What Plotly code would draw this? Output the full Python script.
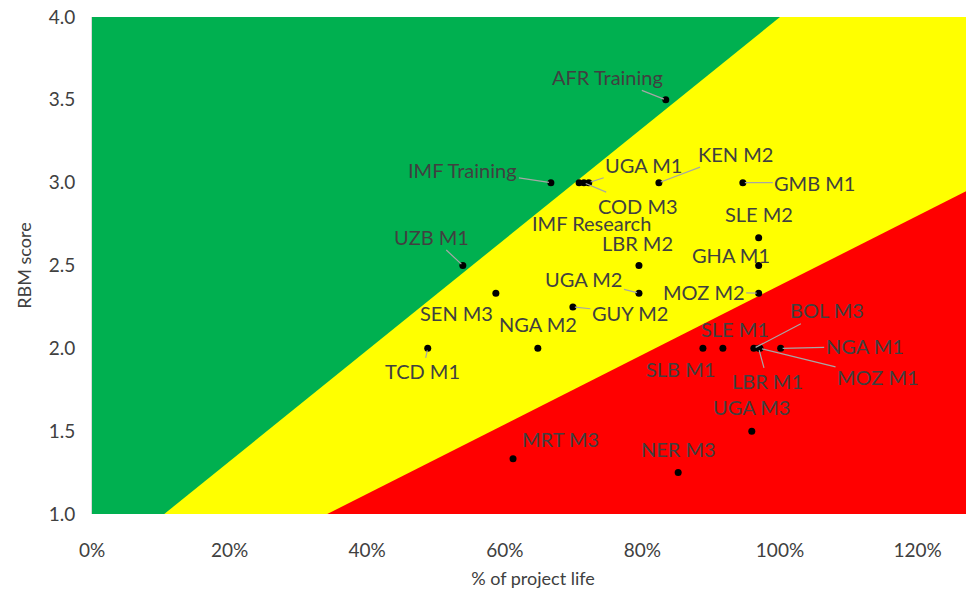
import plotly.graph_objects as go

# ---- data ----
names = ["AFR Training", "IMF Training", "IMF Research", "COD M3", "UGA M1", "KEN M2",
         "GMB M1", "SLE M2", "GHA M1", "MOZ M2", "LBR M2", "UZB M1", "UGA M2", "SEN M3",
         "GUY M2", "NGA M2", "TCD M1", "SLE M1", "SLB M1", "BOL M3", "LBR M1", "MOZ M1",
         "NGA M1", "UGA M3", "NER M3", "MRT M3"]
pct_life = [0.834, 0.667, 0.708, 0.715, 0.722, 0.824,
            0.946, 0.969, 0.969, 0.969, 0.795, 0.539, 0.795, 0.587,
            0.699, 0.648, 0.488, 0.917, 0.888, 0.962, 0.969, 0.971,
            1.001, 0.959, 0.852, 0.612]
rbm_score = [3.5, 3.0, 3.0, 3.0, 3.0, 3.0,
             3.0, 2.667, 2.5, 2.333, 2.5, 2.5, 2.333, 2.333,
             2.25, 2.0, 2.0, 2.0, 2.0, 2.0, 2.0, 2.0,
             2.0, 1.5, 1.25, 1.333]

# zone boundaries
green_yellow_x = [0.105, 1.0]
green_yellow_y = [1.0, 4.0]
yellow_red_x = [0.342, 1.4]
yellow_red_y = [1.0, 3.22]

x_ticks = [0, 0.2, 0.4, 0.6, 0.8, 1.0, 1.2]
x_tick_text = ["0%", "20%", "40%", "60%", "80%", "100%", "120%"]
y_ticks = [1.0, 1.5, 2.0, 2.5, 3.0, 3.5, 4.0]
y_tick_text = ["1.0", "1.5", "2.0", "2.5", "3.0", "3.5", "4.0"]

X_MIN, X_MAX = 0, 1.282
Y_MIN, Y_MAX = 1.0, 4.0

# ---- label layout (pixel offsets from the point, leader line flag) ----
label_layout = {
    "AFR Training": (-58, -23, True),
    "IMF Training": (-88, -13, True),
    "IMF Research": (12, 40, False),
    "COD M3": (54, 23, True),
    "UGA M1": (55, -18, True),
    "KEN M2": (77, -29, True),
    "GMB M1": (72, 0, True),
    "SLE M2": (0, -24, False),
    "GHA M1": (-28, -11, False),
    "MOZ M2": (-55, -1, True),
    "LBR M2": (-1, -23, False),
    "UZB M1": (-31, -29, True),
    "UGA M2": (-55, -14, True),
    "SEN M3": (-39, 20, False),
    "GUY M2": (57, 6, True),
    "NGA M2": (0, -24, False),
    "TCD M1": (-5, 23, True),
    "SLE M1": (12, -19, False),
    "SLB M1": (-22, 21, False),
    "BOL M3": (73, -38, True),
    "LBR M1": (9, 33, True),
    "MOZ M1": (118, 29, True),
    "NGA M1": (84, -2, True),
    "UGA M3": (0, -24, False),
    "NER M3": (0, -24, False),
    "MRT M3": (47, -20, False),
}

FONT = "Lato, 'Open Sans', sans-serif"
TEXT_COLOR = "#404040"

fig = go.Figure()

# green background zone
fig.add_trace(go.Scatter(
    x=[X_MIN, 1.4, 1.4, X_MIN, X_MIN], y=[Y_MIN, Y_MIN, Y_MAX, Y_MAX, Y_MIN],
    fill="toself", fillcolor="#00B050", line=dict(width=0), mode="lines",
    hoverinfo="skip", showlegend=False))
# yellow zone
fig.add_trace(go.Scatter(
    x=[green_yellow_x[0], green_yellow_x[1], 1.4, 1.4, green_yellow_x[0]],
    y=[green_yellow_y[0], green_yellow_y[1], Y_MAX, Y_MIN, green_yellow_y[0]],
    fill="toself", fillcolor="#FFFF00", line=dict(width=0), mode="lines",
    hoverinfo="skip", showlegend=False))
# red zone
fig.add_trace(go.Scatter(
    x=[yellow_red_x[0], yellow_red_x[1], yellow_red_x[1], yellow_red_x[0]],
    y=[yellow_red_y[0], yellow_red_y[1], Y_MIN, yellow_red_y[0]],
    fill="toself", fillcolor="#FF0000", line=dict(width=0), mode="lines",
    hoverinfo="skip", showlegend=False))

# points
fig.add_trace(go.Scatter(
    x=pct_life, y=rbm_score, mode="markers", text=names,
    marker=dict(color="black", size=7), showlegend=False,
    hovertemplate="%{text}: %{x:.0%}, %{y}<extra></extra>"))

for n, xv, yv in zip(names, pct_life, rbm_score):
    dx, dy, leader = label_layout[n]
    if leader:
        fig.add_annotation(x=xv, y=yv, xref="x", yref="y", text=n,
                           showarrow=True, arrowhead=0, arrowwidth=1.2,
                           arrowcolor="#A6A6A6", ax=dx, ay=dy, standoff=2,
                           font=dict(family=FONT, size=20, color=TEXT_COLOR))
    else:
        fig.add_annotation(x=xv, y=yv, xref="x", yref="y", text=n,
                           showarrow=False, xshift=dx, yshift=-dy,
                           font=dict(family=FONT, size=20, color=TEXT_COLOR))

fig.update_layout(
    width=966, height=585,
    margin=dict(l=84, r=0, t=9, b=79, autoexpand=False),
    paper_bgcolor="white", plot_bgcolor="white",
    font=dict(family=FONT, color=TEXT_COLOR),
    xaxis=dict(range=[X_MIN, X_MAX], tickvals=x_ticks, ticktext=x_tick_text,
               showgrid=False, zeroline=False, showline=False, automargin=False,
               ticks="outside", ticklen=19, tickcolor="rgba(0,0,0,0)",
               tickfont=dict(size=19, color=TEXT_COLOR),
               ticklabeloverflow="allow",
               title=dict(text="% of project life", font=dict(size=18, color=TEXT_COLOR),
                          standoff=12)),
    yaxis=dict(range=[Y_MIN, Y_MAX], tickvals=y_ticks, ticktext=y_tick_text,
               showgrid=False, zeroline=False, showline=True, linecolor="#D9D9D9",
               automargin=False,
               ticks="outside", ticklen=12, tickcolor="rgba(0,0,0,0)",
               tickfont=dict(size=19, color=TEXT_COLOR),
               ticklabeloverflow="allow",
               title=dict(text="RBM score", font=dict(size=18, color=TEXT_COLOR),
                          standoff=12)),
)

fig.write_html("out.html")
